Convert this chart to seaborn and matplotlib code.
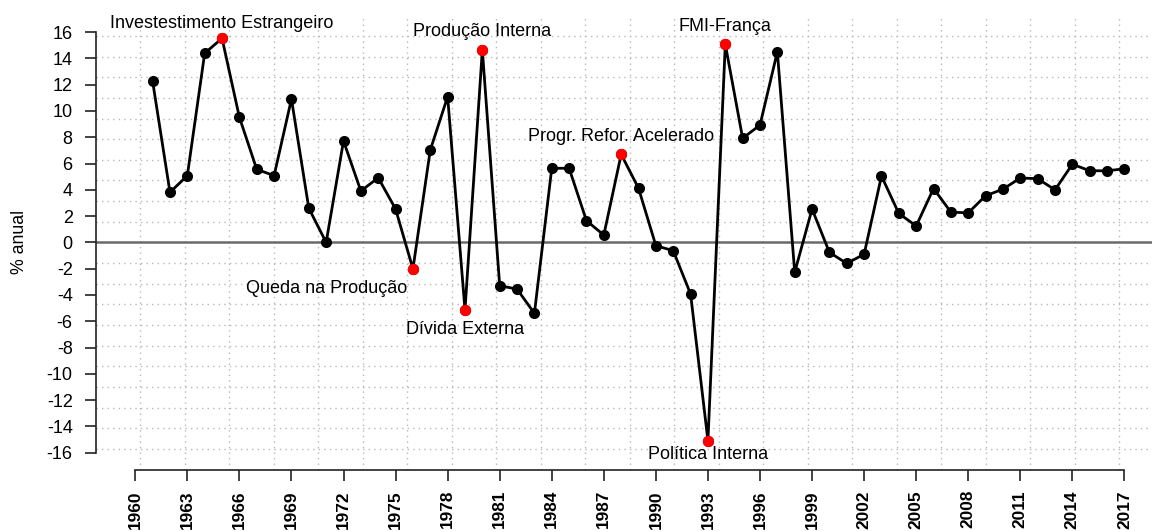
import numpy as np
import pandas as pd
import matplotlib
matplotlib.use("Agg")
import matplotlib.pyplot as plt
import seaborn as sns
from matplotlib.ticker import FixedLocator

# ---------------- data ----------------
years = list(range(1961, 2018))
growth = [12.26, 3.81, 5.08, 14.39, 15.53, 9.52, 5.56, 5.08, 10.91, 2.60,
          0.00, 7.72, 3.91, 4.92, 2.54, -2.02, 7.03, 11.09, -5.14, 14.64,
          -3.30, -3.55, -5.40, 5.64, 5.64, 1.65, 0.56, 6.70, 4.12, -0.25,
          -0.63, -3.93, -15.09, 15.08, 7.92, 8.93, 14.51, -2.28, 2.54, -0.76,
          -1.60, -0.90, 5.05, 2.20, 1.25, 4.10, 2.30, 2.25, 3.55, 4.05,
          4.90, 4.85, 4.00, 5.95, 5.45, 5.45, 5.60]

event_years = [1965, 1980, 1994, 1988, 1976, 1979, 1993]
event_labels = ["Investestimento Estrangeiro", "Produção Interna", "FMI-França",
                "Progr. Refor. Acelerado", "Queda na Produção", "Dívida Externa",
                "Política Interna"]

xtick_years = list(range(1960, 2018, 3))
ytick_values = list(range(-16, 17, 2))
y_label = "% anual"

# ---------------- layout / style ----------------
# label offsets (pixels) relative to the highlighted point, and alignment
label_offsets_px = [(0, 10), (0, 14), (0, 13), (0, 13), (-6, -24), (0, -24), (0, -18)]
label_ha = ["center", "center", "center", "center", "right", "center", "center"]

sns.set_style("white")
plt.rcParams["font.family"] = ["Liberation Sans", "DejaVu Sans"]

W, H = 1152, 531
fig = plt.figure(figsize=(W / 100, H / 100), dpi=100)
ax_left, ax_right = 95.7, 1164.0
ax_top, ax_bottom = 15.3, 469.5
ax = fig.add_axes([ax_left / W, (H - ax_bottom) / H,
                   (ax_right - ax_left) / W, (ax_bottom - ax_top) / H])

df = pd.DataFrame({"ano": years, "crescimento": growth})
ev = df.set_index("ano").loc[event_years, "crescimento"].values

# limits like R's default 4% extension
x0, x1 = min(xtick_years), max(xtick_years)
xr = (x1 - x0) * 0.04
y0, y1 = min(ytick_values), max(ytick_values)
yr = (y1 - y0) * 0.04
ax.set_xlim(x0 - xr, x1 + xr)
ax.set_ylim(y0 - yr, y1 + yr)

# grid (R grid with equal divisions of the plot region)
xl = ax.get_xlim()
yl = ax.get_ylim()
ax.xaxis.set_minor_locator(FixedLocator(np.linspace(xl[0], xl[1], 25)[1:-1]))
ax.yaxis.set_minor_locator(FixedLocator(np.linspace(yl[0], yl[1], 23)[1:-1]))
ax.grid(which="minor", color="#b8b8b8", linestyle=(0, (1, 3)), linewidth=1.0, zorder=0)
ax.grid(which="major", visible=False)
ax.set_axisbelow(True)

ax.axhline(0, color="#6a6a6a", lw=1.8, zorder=1)

sns.lineplot(data=df, x="ano", y="crescimento", ax=ax, color="black", lw=2.0,
             marker="o", markersize=8, markeredgewidth=0, zorder=3)
sns.scatterplot(x=event_years, y=ev, ax=ax, color="#ff0000", s=66,
                linewidth=0, zorder=4)

for lab, yx, yv, (dx, dy), ha in zip(event_labels, event_years, ev,
                                      label_offsets_px, label_ha):
    ax.annotate(lab, xy=(yx, yv), xytext=(dx * 0.72, dy * 0.72),
                textcoords="offset points", ha=ha, va="baseline",
                fontsize=13, color="black", zorder=5, annotation_clip=False)

# axes
for s in ["top", "right"]:
    ax.spines[s].set_visible(False)
ax.spines["left"].set_bounds(y0, y1)
ax.spines["bottom"].set_bounds(x0, x1)
for s in ["left", "bottom"]:
    ax.spines[s].set_linewidth(1.2)
    ax.spines[s].set_color("#222222")

ax.set_xticks(xtick_years)
ax.set_xticklabels([str(y) for y in xtick_years], rotation=90, fontweight="bold")
ax.set_yticks(ytick_values)
ax.set_yticklabels([str(v) for v in ytick_values])
ax.tick_params(axis="both", which="major", length=8, width=1.2, pad=8.6,
               labelsize=13, direction="out", color="#222222", labelcolor="black",
               bottom=True, left=True)
ax.tick_params(axis="x", which="major", labelsize=12.4, pad=6.8)
ax.tick_params(axis="both", which="minor", length=0)

ax.set_xlabel("")
ax.set_ylabel(y_label, fontsize=12.8, ha="center", va="center", color="black")
ax.yaxis.set_label_coords((19.3 - ax_left) / (ax_right - ax_left), 0.5)

fig.savefig("out.png", dpi=100)
